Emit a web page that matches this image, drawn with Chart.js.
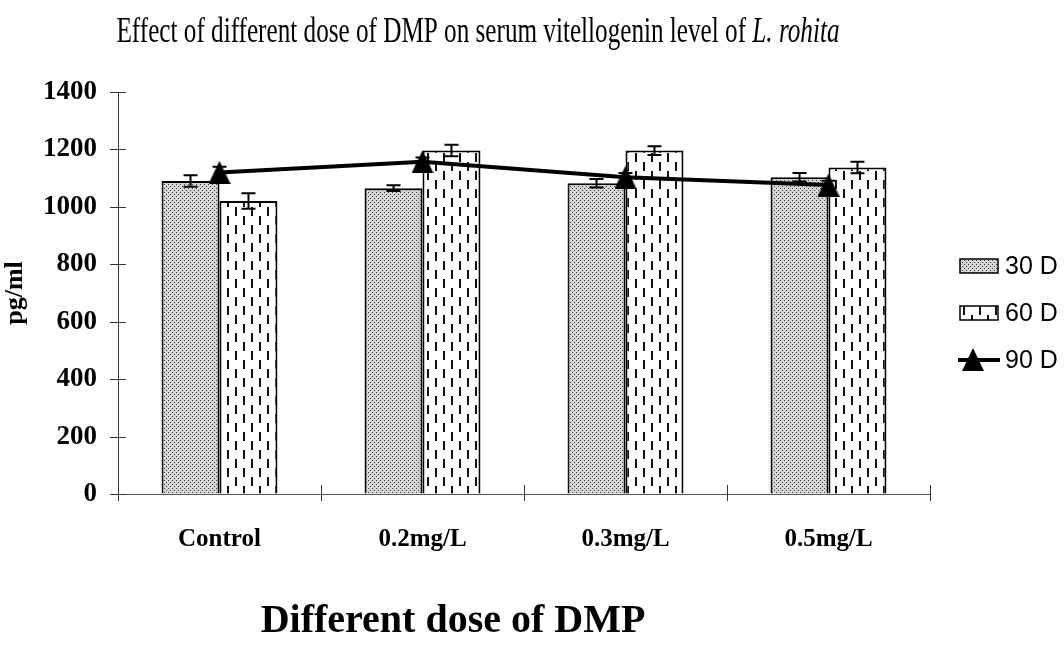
<!DOCTYPE html>
<html>
<head>
<meta charset="utf-8">
<script src="https://cdn.jsdelivr.net/npm/chart.js@4.4.1/dist/chart.umd.min.js"></script>
<style>
html,body{margin:0;padding:0;background:#fff;}
#wrap{width:1064px;height:660px;position:relative;}
</style>
</head>
<body>
<div id="wrap"><canvas id="c" width="1064" height="660"></canvas></div>
<script>
// ---- data ----
const categories = ["Control", "0.2mg/L", "0.3mg/L", "0.5mg/L"];
const seriesNames = ["30 D", "60 D", "90 D"];
const v30 = [1090, 1065, 1082, 1103];
const err30 = [20, 10, 15, 15];
const v60 = [1020, 1196, 1196, 1137];
const err60 = [27, 20, 15, 20];
const v90 = [1120, 1157, 1103, 1076];
const err90 = [20, 15, 15, 15];
const yTicks = [0, 200, 400, 600, 800, 1000, 1200, 1400];
const titleMain = "Effect of different dose of DMP on serum vitellogenin level of ";
const titleItalic = "L. rohita";
const xTitle = "Different dose of DMP";
const yTitle = "pg/ml";

// ---- patterns ----
function stipple() {
  const c = document.createElement('canvas'); c.width = 4; c.height = 4;
  const g = c.getContext('2d');
  g.fillStyle = '#d4d4d4'; g.fillRect(0, 0, 4, 4);
  g.fillStyle = '#444'; g.fillRect(0, 0, 1, 1); g.fillRect(2, 2, 1, 1);
  return g.createPattern(c, 'repeat');
}
function dashes() {
  const c = document.createElement('canvas'); c.width = 16; c.height = 18;
  const g = c.getContext('2d');
  g.fillStyle = '#fff'; g.fillRect(0, 0, 16, 18);
  g.fillStyle = '#111';
  g.fillRect(3, 0, 2, 9); g.fillRect(11, 9, 2, 9);
  return g.createPattern(c, 'repeat');
}
function triangleImg(w, h) {
  const c = document.createElement('canvas'); c.width = w; c.height = h;
  const g = c.getContext('2d');
  g.fillStyle = '#000';
  g.beginPath(); g.moveTo(w / 2, 0); g.lineTo(w, h); g.lineTo(0, h); g.closePath(); g.fill();
  return c;
}
function drawPatternBox(ctx, pat, x, y, w, h) {
  ctx.save(); ctx.fillStyle = pat; ctx.fillRect(x, y, w, h);
  ctx.strokeStyle = '#000'; ctx.lineWidth = 1.5; ctx.strokeRect(x, y, w, h); ctx.restore();
}
const pat30 = stipple();
const pat60 = dashes();
const tri = triangleImg(22, 23);
const errs = [err30, err60, err90];

const errorBars = {
  id: 'errorBars',
  afterDatasetDraw(chart, args) {
    const i = args.index;
    const e = errs[i]; if (!e) return;
    const meta = chart.getDatasetMeta(i);
    const ys = chart.scales.y;
    const ctx = chart.ctx;
    const vals = chart.data.datasets[i].data;
    ctx.save(); ctx.strokeStyle = '#000'; ctx.lineWidth = 2;
    meta.data.forEach((el, k) => {
      const x = el.x;
      const yt = ys.getPixelForValue(vals[k] + e[k]);
      const yb = ys.getPixelForValue(vals[k] - e[k]);
      ctx.beginPath();
      ctx.moveTo(x, yt); ctx.lineTo(x, yb);
      ctx.moveTo(x - 7, yt); ctx.lineTo(x + 7, yt);
      ctx.moveTo(x - 7, yb); ctx.lineTo(x + 7, yb);
      ctx.stroke();
    });
    ctx.restore();
  }
};

const decorations = {
  id: 'decorations',
  afterDraw(chart) {
    const ctx = chart.ctx;
    const ys = chart.scales.y;
    const ca = chart.chartArea;
    ctx.save();
    ctx.strokeStyle = '#333'; ctx.lineWidth = 1;
    ys.ticks.forEach((t, i) => {
      const y = Math.round(ys.getPixelForTick(i)) + 0.5;
      ctx.beginPath(); ctx.moveTo(ca.left - 8, y); ctx.lineTo(ca.left + 8, y); ctx.stroke();
    });
    const n = categories.length;
    for (let i = 0; i <= n; i++) {
      const x = Math.round(ca.left + (ca.right - ca.left) * i / n) + 0.5;
      ctx.beginPath(); ctx.moveTo(x, ca.bottom - 9); ctx.lineTo(x, ca.bottom + 7); ctx.stroke();
    }
    // title
    const targetW = 723, cx = 478, base = 42;
    ctx.fillStyle = '#000'; ctx.textBaseline = 'alphabetic'; ctx.textAlign = 'left';
    const f1 = '35px "Liberation Serif", "Times New Roman", serif';
    const f2 = 'italic 35px "Liberation Serif", "Times New Roman", serif';
    ctx.font = f1; const w1 = ctx.measureText(titleMain).width;
    ctx.font = f2; const w2 = ctx.measureText(titleItalic).width;
    const sx = targetW / (w1 + w2);
    ctx.translate(cx - targetW / 2, base); ctx.scale(sx, 1);
    ctx.font = f1; ctx.fillText(titleMain, 0, 0);
    ctx.font = f2; ctx.fillText(titleItalic, w1, 0);
    ctx.setTransform(1, 0, 0, 1, 0, 0);
    // x axis title
    ctx.font = 'bold 40px "Liberation Serif", "Times New Roman", serif';
    ctx.textAlign = 'center'; ctx.textBaseline = 'alphabetic';
    ctx.fillText(xTitle, 453, 632);
    // legend
    const lx = 960, lw = 38, tx = 1005;
    const rows = [266, 313, 360];
    drawPatternBox(ctx, pat30, lx, rows[0] - 7, lw, 14);
    drawPatternBox(ctx, pat60, lx, rows[1] - 7, lw, 14);
    ctx.strokeStyle = '#000'; ctx.lineWidth = 4;
    ctx.beginPath(); ctx.moveTo(lx - 2, rows[2]); ctx.lineTo(lx + lw + 2, rows[2]); ctx.stroke();
    ctx.drawImage(tri, lx + 2, rows[2] - 12);
    ctx.font = '25px "Liberation Sans", Arial, sans-serif';
    ctx.textAlign = 'left'; ctx.textBaseline = 'middle';
    seriesNames.forEach((s, i) => ctx.fillText(s, tx, rows[i] + 1));
    ctx.restore();
  }
};

new Chart(document.getElementById('c'), {
  data: {
    labels: categories,
    datasets: [
      { type: 'bar', label: seriesNames[0], data: v30, backgroundColor: pat30, borderColor: '#000', borderWidth: 2, order: 2, categoryPercentage: 0.571, barPercentage: 1.0 },
      { type: 'bar', label: seriesNames[1], data: v60, backgroundColor: pat60, borderColor: '#000', borderWidth: 2, order: 2, categoryPercentage: 0.571, barPercentage: 1.0 },
      { type: 'line', label: seriesNames[2], data: v90, borderColor: '#000', borderWidth: 4, pointStyle: tri, pointRadius: 12, pointHoverRadius: 12, order: 1, fill: false, tension: 0 }
    ]
  },
  options: {
    responsive: false,
    animation: false,
    events: [],
    layout: { padding: { top: 92, right: 134, left: 0, bottom: 0 } },
    plugins: { legend: { display: false }, title: { display: false }, tooltip: { enabled: false } },
    scales: {
      x: {
        type: 'category',
        offset: true,
        grid: { display: true, drawOnChartArea: false, color: 'rgba(0,0,0,0)', tickLength: 8, offset: true },
        border: { display: true, color: '#555', width: 1 },
        ticks: { color: '#000', font: { family: '"Liberation Serif", "Times New Roman", serif', size: 25, weight: 'bold' }, padding: 23, maxRotation: 0 },
        afterFit(s) { s.height = 166; }
      },
      y: {
        min: 0, max: 1400,
        afterBuildTicks(s) { s.ticks = yTicks.map(v => ({ value: v })); },
        grid: { display: true, drawOnChartArea: false, color: 'rgba(0,0,0,0)', tickLength: 8 },
        border: { display: true, color: '#333', width: 1 },
        ticks: { color: '#000', font: { family: '"Liberation Serif", "Times New Roman", serif', size: 27, weight: 'bold' }, padding: 13, callback: (v) => String(v) },
        title: { display: true, text: yTitle, color: '#000', font: { family: '"Liberation Serif", "Times New Roman", serif', size: 26, weight: 'bold' }, padding: { top: 0, bottom: 0 } },
        afterFit(s) { s.width = 118; }
      }
    }
  },
  plugins: [errorBars, decorations]
});
</script>
</body>
</html>
